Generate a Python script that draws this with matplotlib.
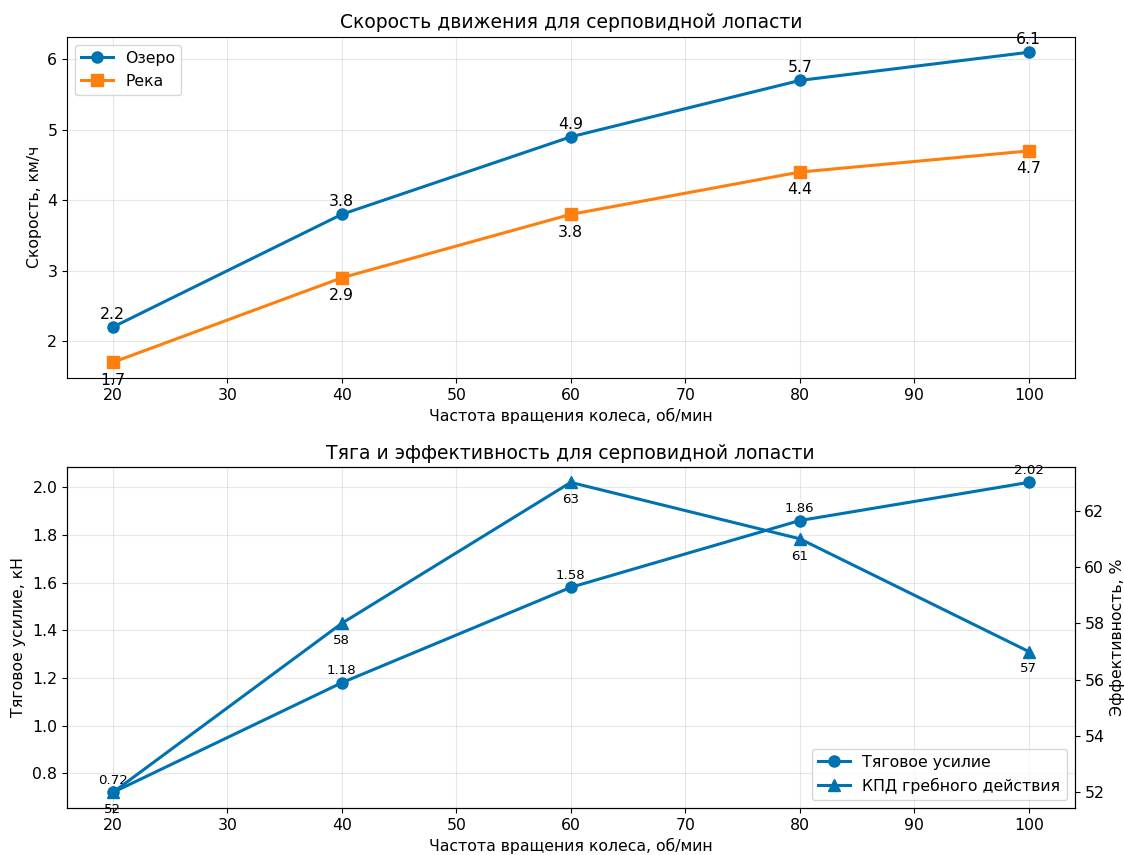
import matplotlib
matplotlib.use('Agg')
import matplotlib.pyplot as plt

# Данные
rpm = [20, 40, 60, 80, 100]
speed_lake = [2.2, 3.8, 4.9, 5.7, 6.1]
speed_river = [1.7, 2.9, 3.8, 4.4, 4.7]
thrust = [0.72, 1.18, 1.58, 1.86, 2.02]
efficiency = [52, 58, 63, 61, 57]

blue = '#0072B2'
orange = '#FF7F0E'

plt.rcParams['font.size'] = 11.3
plt.rcParams['xtick.labelsize'] = 11.3
plt.rcParams['ytick.labelsize'] = 11.3

fig, (ax1, ax2) = plt.subplots(2, 1, figsize=(11.24, 8.55), dpi=100)
fig.subplots_adjust(left=0.0596, right=0.956, top=0.957, bottom=0.055, hspace=0.261)

# Скорость
ax1.plot(rpm, speed_lake, marker='o', color=blue, lw=2.2, ms=8, label='Озеро')
ax1.plot(rpm, speed_river, marker='s', color=orange, lw=2.2, ms=8, label='Река')
for x, y in zip(rpm, speed_lake):
  ax1.annotate(f'{y}', (x, y), textcoords='offset points', xytext=(0, 6),
               ha='center', fontsize=11.3)
for x, y in zip(rpm, speed_river):
  ax1.annotate(f'{y}', (x, y), textcoords='offset points', xytext=(0, -16),
               ha='center', fontsize=11.3)
ax1.set_title('Скорость движения для серповидной лопасти', fontsize=13.5)
ax1.set_xlabel('Частота вращения колеса, об/мин', fontsize=11.3)
ax1.set_ylabel('Скорость, км/ч', fontsize=11.3)
ax1.grid(True, alpha=0.3)
ax1.legend(loc='upper left', fontsize=11.3)

# Тяга и КПД
l1, = ax2.plot(rpm, thrust, marker='o', color=blue, lw=2.2, ms=8, label='Тяговое усилие')
for x, y in zip(rpm, thrust):
  ax2.annotate(f'{y}', (x, y), textcoords='offset points', xytext=(0, 6),
               ha='center', fontsize=9.6)
ax2.set_xlabel('Частота вращения колеса, об/мин', fontsize=11.3)
ax2.set_ylabel('Тяговое усилие, кН', fontsize=11.3)
ax2.set_title('Тяга и эффективность для серповидной лопасти', fontsize=13.5)
ax2.grid(True, alpha=0.3)

ax3 = ax2.twinx()
l2, = ax3.plot(rpm, efficiency, marker='^', color=blue, lw=2.2, ms=8,
               label='КПД гребного действия')
for x, y in zip(rpm, efficiency):
  ax3.annotate(f'{y}', (x, y), textcoords='offset points', xytext=(0, -15),
               ha='center', fontsize=9.6)
ax3.set_ylabel('Эффективность, %', fontsize=11.3)

ax2.legend([l1, l2], [l1.get_label(), l2.get_label()], loc='lower right', fontsize=11.3)

fig.savefig('out.png')
